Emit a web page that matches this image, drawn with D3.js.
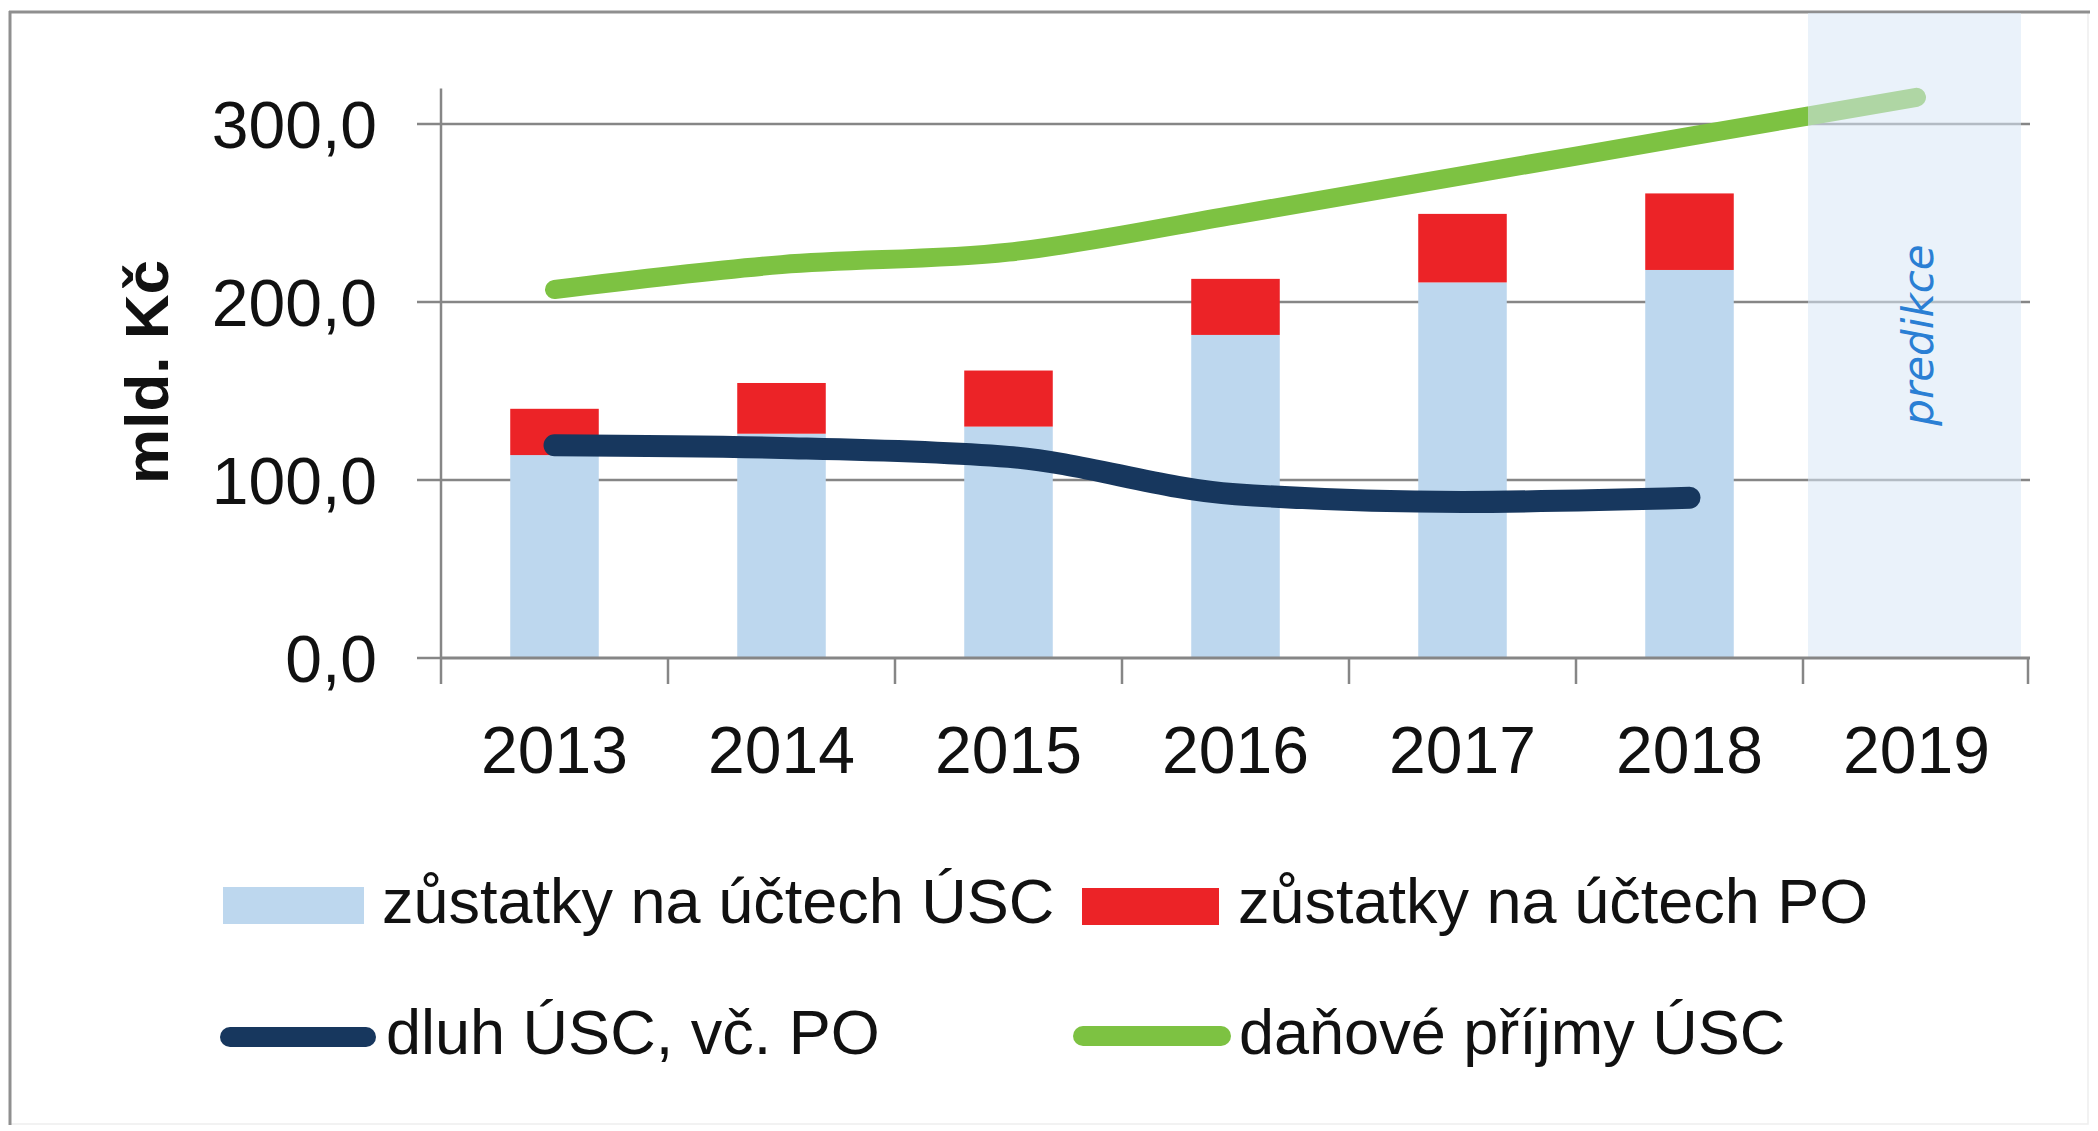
<!DOCTYPE html>
<html>
<head>
<meta charset="utf-8">
<script src="https://cdn.jsdelivr.net/npm/d3@7"></script>
<style>
  html, body { margin: 0; padding: 0; background: #ffffff; }
  svg { display: block; }
</style>
</head>
<body>
<svg id="chart" width="2098" height="1131"></svg>
<script>
// ---------- data ----------
const years = ["2013", "2014", "2015", "2016", "2017", "2018", "2019"];
const zustatkyUSC = [114, 126, 130, 181.5, 211, 218, null];
const zustatkyPO = [26, 28.5, 31.5, 31.5, 38.5, 43, null];
const dluhUSC = [119.5, 118, 113, 92, 87.7, 90, null];
const danovePrijmy = [207, 221, 228, 249, 271, 293, 315];
const yTicks = [0, 100, 200, 300];
const legendLabels = ["zůstatky na účtech ÚSC", "zůstatky na účtech PO", "dluh ÚSC, vč. PO", "daňové příjmy ÚSC"];
const yTitle = "mld. Kč";
const predictionLabel = "predikce";
const predictionYear = "2019";

// ---------- styles ----------
const C = {
  usc: "#bdd7ee",
  po: "#ec2327",
  dluh: "#17375e",
  danove: "#7dc242",
  axis: "#868686",
  text: "#111111",
  shade: "#d8e7f6",
  pred: "#2a7fd4"
};
const FONT = "'Liberation Sans', Arial, sans-serif";

const svg = d3.select("#chart");

// frame
svg.append("rect").attr("x", 10).attr("y", 12).attr("width", 2078).attr("height", 1112)
  .attr("fill", "#ffffff").attr("stroke", "#eeeeee").attr("stroke-width", 1.5);
svg.append("line").attr("x1", 10).attr("x2", 10).attr("y1", 11).attr("y2", 1125)
  .attr("stroke", "#8f8f8f").attr("stroke-width", 3);
svg.append("line").attr("x1", 9).attr("x2", 2090).attr("y1", 12).attr("y2", 12)
  .attr("stroke", "#8f8f8f").attr("stroke-width", 3);

// scales
const x = d3.scaleBand().domain(years).range([441, 2030]).padding(0);
const y = d3.scaleLinear().domain([0, 320]).range([658, 88.4]);
const barW = x.bandwidth() * 0.39;

// gridlines + y ticks
const yAxis = d3.axisLeft(y).tickValues(yTicks).tickSize(0)
  .tickFormat(d => d3.format(".1f")(d).replace(".", ","));
const gy = svg.append("g").attr("transform", "translate(441,0)").call(yAxis);
gy.select(".domain").remove();
gy.selectAll(".tick text").attr("x", -64).attr("dy", "0.36em")
  .attr("font-family", FONT).attr("font-size", 66).attr("fill", C.text);

svg.append("g").selectAll("line").data(yTicks.filter(d => d > 0)).join("line")
  .attr("x1", 417).attr("x2", 2030)
  .attr("y1", d => y(d)).attr("y2", d => y(d))
  .attr("stroke", C.axis).attr("stroke-width", 2.5);
// zero tick stub
svg.append("line").attr("x1", 417).attr("x2", 441).attr("y1", y(0)).attr("y2", y(0))
  .attr("stroke", C.axis).attr("stroke-width", 2.5);

// bars
const bars = svg.append("g");
years.forEach((yr, i) => {
  if (zustatkyUSC[i] == null) return;
  const bx = x(yr) + (x.bandwidth() - barW) / 2;
  bars.append("rect").attr("x", bx).attr("width", barW)
    .attr("y", y(zustatkyUSC[i])).attr("height", y(0) - y(zustatkyUSC[i]))
    .attr("fill", C.usc);
  bars.append("rect").attr("x", bx).attr("width", barW)
    .attr("y", y(zustatkyUSC[i] + zustatkyPO[i]))
    .attr("height", y(zustatkyUSC[i]) - y(zustatkyUSC[i] + zustatkyPO[i]))
    .attr("fill", C.po);
});

// lines
const cx = yr => x(yr) + x.bandwidth() / 2;
const lineGen = d3.line()
  .defined(d => d.v != null)
  .x(d => cx(d.yr)).y(d => y(d.v))
  .curve(d3.curveMonotoneX);

svg.append("path")
  .datum(years.map((yr, i) => ({ yr, v: danovePrijmy[i] })))
  .attr("d", lineGen).attr("fill", "none")
  .attr("stroke", C.danove).attr("stroke-width", 19)
  .attr("stroke-linecap", "round").attr("stroke-linejoin", "round");

svg.append("path")
  .datum(years.map((yr, i) => ({ yr, v: dluhUSC[i] })).filter(d => d.v != null))
  .attr("d", lineGen).attr("fill", "none")
  .attr("stroke", C.dluh).attr("stroke-width", 22)
  .attr("stroke-linecap", "round").attr("stroke-linejoin", "round");

// prediction shade
const px0 = x(predictionYear) + 5;
svg.append("rect").attr("x", px0).attr("y", 13)
  .attr("width", 2021 - px0).attr("height", y(0) - 13)
  .attr("fill", C.shade).attr("opacity", 0.55);

svg.append("text")
  .attr("transform", `translate(${cx(predictionYear) + 16},${335}) rotate(-90)`)
  .attr("text-anchor", "middle")
  .attr("font-family", "'DejaVu Sans', sans-serif").attr("font-style", "italic")
  .attr("font-size", 42).attr("fill", C.pred)
  .text(predictionLabel);

// x axis
const xAxis = d3.axisBottom(x).tickSize(0).tickPadding(0);
const gx = svg.append("g").attr("transform", `translate(0,${y(0)})`).call(xAxis);
gx.select(".domain").remove();
gx.selectAll(".tick text").attr("y", 0).attr("dy", 115)
  .attr("font-family", FONT).attr("font-size", 66).attr("fill", C.text);
svg.append("line").attr("x1", 441).attr("x2", 2030).attr("y1", y(0)).attr("y2", y(0))
  .attr("stroke", C.axis).attr("stroke-width", 3);
svg.append("line").attr("x1", 441).attr("x2", 441).attr("y1", y(320)).attr("y2", y(0) + 26)
  .attr("stroke", C.axis).attr("stroke-width", 2.5);
svg.append("g").selectAll("line").data(years.slice(1).map(d => x(d)).concat([x.range()[1] - 2]))
  .join("line")
  .attr("x1", d => d).attr("x2", d => d)
  .attr("y1", y(0)).attr("y2", y(0) + 26)
  .attr("stroke", C.axis).attr("stroke-width", 2.5);

// y title
svg.append("text")
  .attr("transform", "translate(168,372) rotate(-90)")
  .attr("text-anchor", "middle")
  .attr("font-family", FONT).attr("font-weight", "bold")
  .attr("font-size", 62).attr("fill", C.text)
  .text(yTitle);

// legend
const leg = svg.append("g");
const legendItems = [
  { label: legendLabels[0], type: "rect", color: C.usc, x0: 223, x1: 364, tx: 382, y: 905, base: 923 },
  { label: legendLabels[1], type: "rect", color: C.po, x0: 1082, x1: 1219, tx: 1238, y: 906, base: 923 },
  { label: legendLabels[2], type: "line", color: C.dluh, x0: 230, x1: 366, tx: 386, y: 1037, base: 1054 },
  { label: legendLabels[3], type: "line", color: C.danove, x0: 1083, x1: 1221, tx: 1239, y: 1036, base: 1054 }
];
legendItems.forEach(d => {
  if (d.type === "rect") {
    leg.append("rect").attr("x", d.x0).attr("y", d.y - 18)
      .attr("width", d.x1 - d.x0).attr("height", 37).attr("fill", d.color);
  } else {
    leg.append("line").attr("x1", d.x0).attr("x2", d.x1).attr("y1", d.y).attr("y2", d.y)
      .attr("stroke", d.color).attr("stroke-width", 20).attr("stroke-linecap", "round");
  }
  leg.append("text").attr("x", d.tx).attr("y", d.base)
    .attr("font-family", FONT).attr("font-size", 63).attr("fill", C.text)
    .text(d.label);
});
</script>
</body>
</html>
